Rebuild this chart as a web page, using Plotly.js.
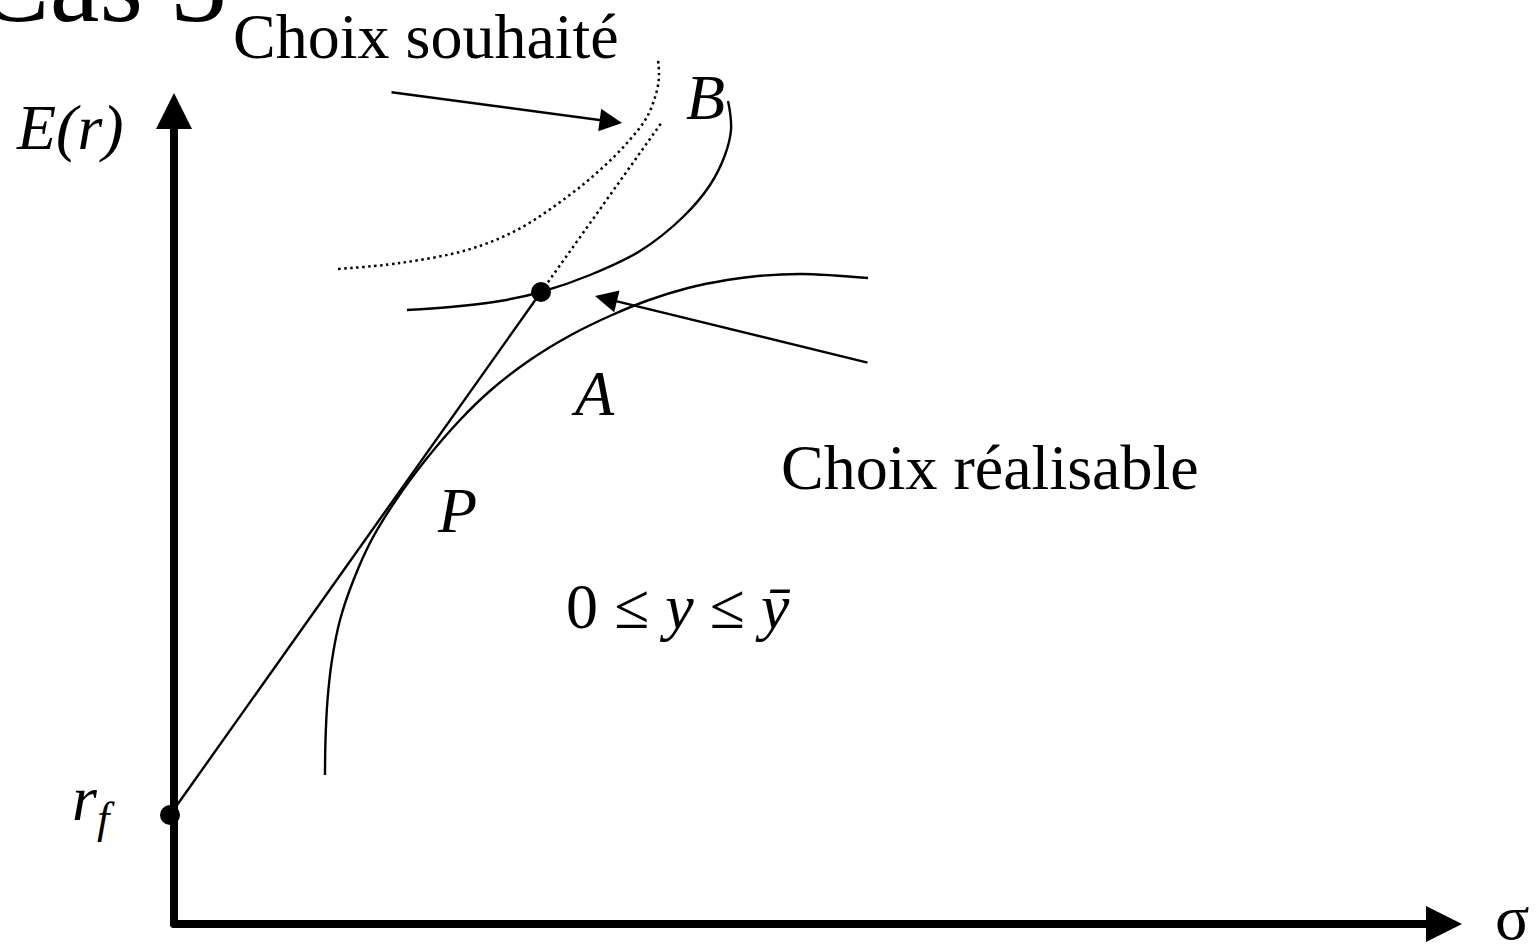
<!DOCTYPE html>
<html>
<head>
<meta charset="utf-8">
<script src="https://cdn.plot.ly/plotly-3.0.1.min.js"></script>
<style>html,body{margin:0;padding:0;background:#fff;}#chart{width:1537px;height:945px;}</style>
</head>
<body>
<div id="chart"></div>
<script>
// Diagram coordinates (pixel-like data space, y grows downward)
const frontierX = [325, 325.5, 327.5, 332, 340, 353.5, 371.5, 396, 425.5, 460, 491, 530, 571, 612, 649, 688, 727, 758, 800, 835, 868];
const frontierY = [775, 740, 700, 660, 620, 580, 540, 500, 460, 420, 390, 360, 335, 315, 300, 288, 280, 276, 274, 275.5, 278];
const curveBX = [407, 450, 500, 541, 590, 640, 683, 710, 725, 731, 730, 728];
const curveBY = [310, 307, 301, 292, 275, 251, 217, 185, 155, 130, 112, 101];
const wishX = [338, 400, 467, 517, 567, 600, 627, 647, 657, 659, 658];
const wishY = [269, 263, 250, 230, 197, 170, 143, 117, 90, 75, 60];
const tangentX = [170, 541];
const tangentY = [815, 292];
const extensionX = [541, 662];
const extensionY = [292, 122];
const pointX = [170, 541];
const pointY = [815, 292];

const labels = [
  {text: 'Choix souhaité', x: 426, y: 36, italic: false},
  {text: 'Choix réalisable', x: 990, y: 467, italic: false},
  {text: 'E(r)', x: 70, y: 127, italic: true},
  {text: 'B', x: 705, y: 97, italic: true},
  {text: 'A', x: 593, y: 393, italic: true},
  {text: 'P', x: 457, y: 510, italic: true},
  {text: '0 ≤ <i>y</i> ≤ <i>ȳ</i>', x: 678, y: 606, italic: false},
  {text: 'r<sub>f</sub>', x: 93, y: 803, italic: true}
];

const FONT = 'Liberation Serif, Times New Roman, serif';

const traces = [
  {x: frontierX, y: frontierY, mode: 'lines', line: {color: '#000', width: 2.4, shape: 'spline', smoothing: 1}},
  {x: curveBX, y: curveBY, mode: 'lines', line: {color: '#000', width: 2.4, shape: 'spline', smoothing: 1}},
  {x: wishX, y: wishY, mode: 'lines', line: {color: '#000', width: 2.5, shape: 'spline', dash: '2.5px,3.5px'}},
  {x: tangentX, y: tangentY, mode: 'lines', line: {color: '#000', width: 2.4}},
  {x: extensionX, y: extensionY, mode: 'lines', line: {color: '#000', width: 2.5, dash: '2.5px,3.5px'}},
  {x: pointX, y: pointY, mode: 'markers', marker: {color: '#000', size: 20}}
];

function arrow(x0, y0, x1, y1, w, size) {
  return {x: x1, y: y1, ax: x0, ay: y0, xref: 'x', yref: 'y', axref: 'x', ayref: 'y',
    text: '', showarrow: true, arrowhead: 2, arrowwidth: w, arrowsize: size,
    arrowcolor: '#000', standoff: 0, startstandoff: 0};
}

const annotations = labels.map(l => ({
  x: l.x, y: l.y, xref: 'x', yref: 'y', showarrow: false,
  text: l.italic ? '<i>' + l.text + '</i>' : l.text,
  font: {family: FONT, size: 64, color: '#000'},
  xanchor: 'center', yanchor: 'middle'
}));

// sigma axis label, with a tight box so it stays inside the picture
annotations.push({x: 1512, y: 917, xref: 'x', yref: 'y', showarrow: false, text: 'σ',
  font: {family: FONT, size: 64, color: '#000'}, xanchor: 'center', yanchor: 'middle', height: 52});

// title, cut off at the top edge as in the reference
annotations.push({x: 0, y: 0, xref: 'x', yref: 'y', showarrow: false, text: 'Cas 3',
  font: {family: FONT, size: 112, color: '#000'}, xanchor: 'left', yanchor: 'middle',
  xshift: -27, yshift: 17});

annotations.push(arrow(174, 928, 174, 93, 8, 0.9));
annotations.push(arrow(170, 924, 1462, 924, 8, 0.9));
annotations.push(arrow(390, 92, 622, 123, 2.5, 1.8));
annotations.push(arrow(869, 363, 595, 296, 2.5, 1.8));

const layout = {
  width: 1537, height: 945,
  margin: {l: 0, r: 0, t: 0, b: 0},
  paper_bgcolor: '#fff', plot_bgcolor: '#fff',
  showlegend: false,
  xaxis: {range: [0, 1537], visible: false, fixedrange: true},
  yaxis: {range: [945, 0], visible: false, fixedrange: true},
  annotations: annotations
};

Plotly.newPlot('chart', traces, layout, {staticPlot: true});
</script>
</body>
</html>
